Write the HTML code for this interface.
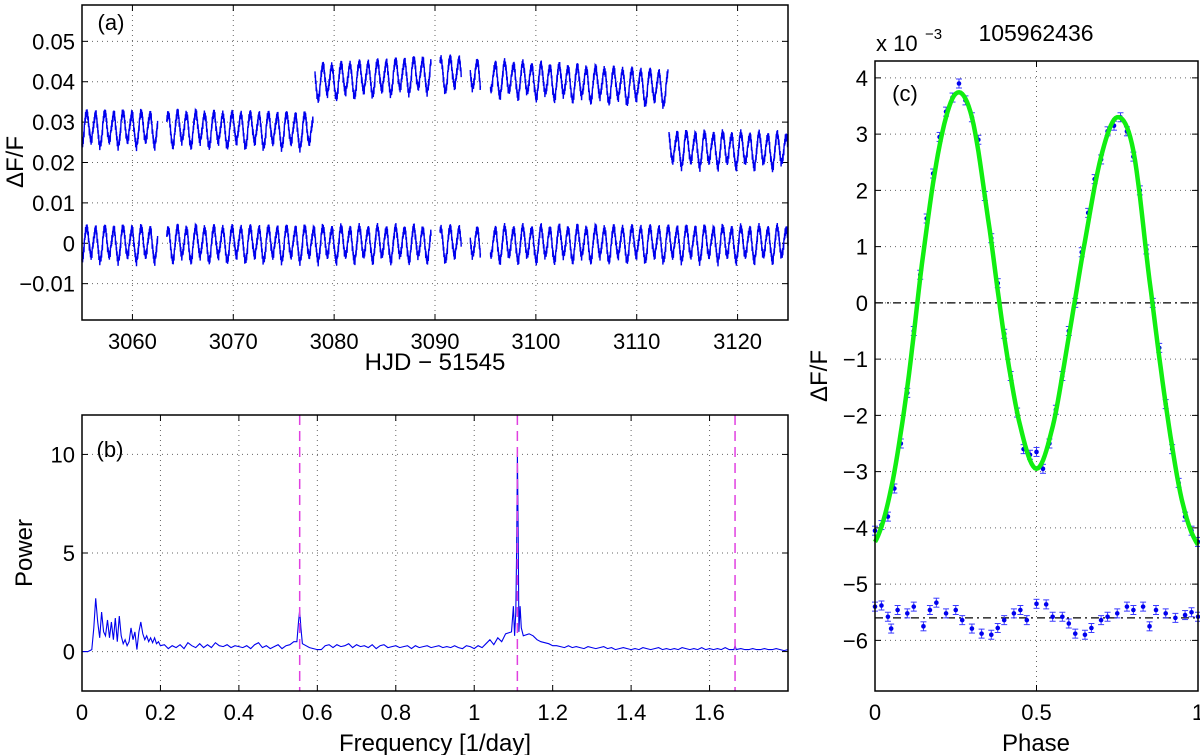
<!DOCTYPE html>
<html><head><meta charset="utf-8"><style>
html,body{margin:0;padding:0;background:#fff;}
svg{display:block;font-family:"Liberation Sans",Arial,sans-serif;}
</style></head><body>
<svg id="fig" width="1200" height="755" viewBox="0 0 1200 755"></svg>
<script>
// ---------- Panel (a) data ----------
const lcSegStart = [3055.0, 3063.4, 3078.1, 3090.5, 3093.5, 3095.5, 3113.2];
const lcSegEnd   = [3062.5, 3077.9, 3089.6, 3092.6, 3094.5, 3113.1, 3125.0];
const lcTopLevelStart = [0.0285, 0.0285, 0.0400, 0.0420, 0.0415, 0.0410, 0.0235];
const lcTopLevelEnd   = [0.0285, 0.0280, 0.0420, 0.0420, 0.0415, 0.0385, 0.0230];
const lcBotSegStart = [3055.0, 3063.4, 3090.5, 3093.5, 3095.5];
const lcBotSegEnd   = [3062.5, 3089.6, 3092.6, 3094.5, 3125.0];
const lcNoise = [0.0006,-0.0004,0.0009,-0.0008,0.0002,0.0011,-0.0010,0.0004,-0.0002,0.0007,-0.0012,0.0003,0.0008];
const lcPeriod = [1.8018];
const lcScale = [0.00105];
const aXTicks = [3060,3070,3080,3090,3100,3110,3120];
const aYTicks = [-0.01,0,0.01,0.02,0.03,0.04,0.05];
const aYTickLabels = ["\u22120.01","0","0.01","0.02","0.03","0.04","0.05"];
// ---------- Panel (b) data ----------
const pgLowFreq = [0,0.005,0.01,0.015,0.02,0.025,0.03,0.035,0.04,0.045,0.05,0.055,0.06,0.065,0.07,0.075,0.08,0.085,0.09,0.095,0.1,0.105,0.11,0.115,0.12,0.125,0.13,0.135,0.14,0.145,0.15,0.155,0.16,0.165,0.17,0.175,0.18,0.185,0.19,0.195,0.2];
const pgLowPow  = [0,0,0,0,0.05,0.1,1.2,2.7,1.5,0.7,2.0,1.0,0.8,1.6,0.7,1.5,0.6,1.7,0.5,1.8,0.8,0.4,0.6,0.3,0.5,1.2,0.6,1.0,0.1,1.0,1.5,0.9,0.6,0.8,0.5,0.7,0.45,0.7,0.4,0.5,0.3];
const pgHighPow = [
.35,.15,.3,.2,.35,.15,.45,.3,.2,.4,
.2,.35,.2,.45,.3,.25,.35,.2,.3,.25,
.2,.3,.15,.35,.45,.2,.3,.15,.25,.35,
.15,.3,.35,.5,.6,.5,.3,.2,.15,.1,
.1,.3,.35,.2,.35,.25,.3,.4,.2,.35,
.25,.3,.2,.35,.15,.3,.35,.2,.25,.3,
.2,.25,.3,.15,.3,.2,.25,.3,.2,.25,
.3,.2,.25,.2,.3,.2,.15,.3,.25,.15,
.3,.2,.4,.6,.35,.7,.5,.9,1.2,1.6,
1.0,1.5,1.2,.9,.8,.6,.5,.45,.4,.3,
.3,.25,.2,.3,.2,.25,.2,.15,.25,.2,
.15,.2,.25,.15,.2,.1,.15,.2,.15,.1,
.15,.1,.2,.15,.1,.15,.2,.1,.15,.1,
.15,.1,.2,.15,.1,.15,.1,.2,.1,.15,
.1,.15,.1,.2,.1,.15,.1,.15,.1,.1,
.15,.1,.1,.15,.1,.1,.15,.1,.05,.1];
const pgHighStart = [0.21];
const pgHighStep = [0.01];
const pgSpikeFreq = [0.548,0.552,0.555,0.558,0.562,1.095,1.1,1.103,1.106,1.108,1.11,1.112,1.114,1.117,1.12,1.125,1.662,1.665,1.668];
const pgSpikePow  = [0.5,1.5,2.1,1.2,0.4,1.0,2.3,0.8,2.0,5.0,10.0,6.0,1.0,2.3,1.2,0.8,0.1,0.3,0.1];
const harmonicFreq = [0.555,1.11,1.665];
const bXTicks = [0,0.2,0.4,0.6,0.8,1,1.2,1.4,1.6];
const bXTickLabels = ["0","0.2","0.4","0.6","0.8","1","1.2","1.4","1.6"];
const bYTicks = [0,5,10];
// ---------- Panel (c) data ----------
const modelPhase = [0,0.05,0.1,0.15,0.2,0.25,0.3,0.35,0.4,0.45,0.5,0.55,0.6,0.65,0.7,0.75,0.8,0.85,0.9,0.95,1.0];
const modelVal   = [-4.25,-3.3,-1.5,0.9,2.8,3.72,3.3,1.5,-0.6,-2.2,-2.95,-2.2,-0.6,1.1,2.6,3.3,2.7,0.4,-1.8,-3.5,-4.3];
const dataPhase = [0,.02,.04,.06,.08,.1,.12,.14,.16,.18,.2,.22,.24,.26,.28,.3,.32,.34,.36,.38,.4,.42,.44,.46,.48,.5,.52,.54,.56,.58,.6,.62,.64,.66,.68,.7,.72,.74,.76,.78,.8,.82,.84,.86,.88,.9,.92,.94,.96,.98,1.0];
const dataVal = [-4.05,-3.95,-3.8,-3.3,-2.5,-1.6,-0.5,0.5,1.5,2.3,2.95,3.4,3.65,3.9,3.6,3.3,2.9,1.9,1.15,0.35,-0.55,-1.3,-1.95,-2.6,-2.7,-2.65,-2.95,-2.5,-1.9,-1.3,-0.5,0.0,0.9,1.6,2.2,2.55,3.05,3.15,3.3,3.05,2.6,2.0,0.95,0.0,-0.8,-1.8,-2.6,-3.2,-3.8,-4.05,-4.25];
const residPhase = [0,.02,.04,.05,.07,.1,.12,.15,.17,.19,.22,.25,.27,.3,.33,.36,.38,.4,.43,.45,.47,.5,.53,.55,.58,.6,.62,.65,.67,.7,.72,.75,.78,.8,.83,.85,.87,.9,.93,.96,.98,1.0];
const residVal = [-5.4,-5.38,-5.58,-5.79,-5.46,-5.52,-5.4,-5.75,-5.46,-5.33,-5.52,-5.46,-5.64,-5.79,-5.88,-5.9,-5.78,-5.64,-5.52,-5.46,-5.64,-5.35,-5.36,-5.58,-5.58,-5.7,-5.88,-5.9,-5.78,-5.64,-5.58,-5.52,-5.4,-5.46,-5.4,-5.75,-5.46,-5.52,-5.6,-5.55,-5.5,-5.58];
const residMean = [-5.6];
const cYTicks = [-6,-5,-4,-3,-2,-1,0,1,2,3,4];
const cXTicks = [0,0.5,1];
const cXTickLabels = ["0","0.5","1"];

const FS = 22;
const NS = "http://www.w3.org/2000/svg";
const svg = document.getElementById('fig');
function mk(tag, attrs, parent){
  const e = document.createElementNS(NS, tag);
  for (const k in attrs) e.setAttribute(k, attrs[k]);
  (parent||svg).appendChild(e);
  return e;
}
function lin(d0,d1,r0,r1){ return v => r0 + (v-d0)/(d1-d0)*(r1-r0); }
function fmtMinus(v){ return (v<0?"\u2212":"") + Math.abs(v); }

function axesFrame(g, L,T,R,B, xs, ys, xt, xl, yt, yl, name){
  xt.forEach((v,i)=>{
    const x = xs(v);
    if (x> L+1 && x< R-1){
      const gl = mk('line',{x1:x,y1:T,x2:x,y2:B,stroke:'#666','stroke-width':1,'stroke-dasharray':'1,4'},g);
      
      
    }
    mk('line',{x1:x,y1:B,x2:x,y2:B-6,stroke:'#000','stroke-width':1},g);
    mk('line',{x1:x,y1:T,x2:x,y2:T+6,stroke:'#000','stroke-width':1},g);
    const t = mk('text',{x:x,y:B+29,'font-size':FS,'text-anchor':'middle',fill:'#000'},g);
    t.textContent = xl[i];
    
    
  });
  yt.forEach((v,i)=>{
    const y = ys(v);
    if (y> T+1 && y< B-1){
      const gl = mk('line',{x1:L,y1:y,x2:R,y2:y,stroke:'#666','stroke-width':1,'stroke-dasharray':'1,4'},g);
      
      
    }
    mk('line',{x1:L,y1:y,x2:L+6,y2:y,stroke:'#000','stroke-width':1},g);
    mk('line',{x1:R,y1:y,x2:R-6,y2:y,stroke:'#000','stroke-width':1},g);
    const t = mk('text',{x:L-7,y:y+8,'font-size':FS,'text-anchor':'end',fill:'#000'},g);
    t.textContent = yl[i];
    
    
  });
}
function frame(g,L,T,R,B,name){
  const r = mk('rect',{x:L,y:T,width:R-L,height:B-T,fill:'none',stroke:'#000','stroke-width':1.5},g);
  
  
}
function label(g, txt, x, y, rot, name, size){
  const t = mk('text',{x:x,y:y,'font-size':size||24,'text-anchor':'middle',fill:'#000'},g);
  if (rot) t.setAttribute('transform','rotate(-90 '+x+' '+y+')');
  t.textContent = txt;
  
  
  return t;
}
function modelAt(p){
  const n = modelPhase.length;
  let i = 0;
  while (i < n-2 && p > modelPhase[i+1]) i++;
  const t = (p - modelPhase[i])/(modelPhase[i+1]-modelPhase[i]);
  const p0 = modelVal[Math.max(i-1,0)], p1 = modelVal[i], p2 = modelVal[i+1], p3 = modelVal[Math.min(i+2,n-1)];
  return 0.5*((2*p1) + (-p0+p2)*t + (2*p0-5*p1+4*p2-p3)*t*t + (-p0+3*p1-3*p2+p3)*t*t*t);
}

// ================= Panel (a) =================
(function(){
  const L=82,T=5,R=788,B=320;
  const g = mk('g',{});
  
  
  const xs = lin(3055,3125,L,R), ys = lin(-0.019,0.059,B,T);
  axesFrame(g,L,T,R,B,xs,ys,aXTicks,aXTicks.map(String),aYTicks,aYTickLabels,'panel-a');
  const P = lcPeriod[0], S = lcScale[0];
  function sig(t,k){ let ph = ((t-3055)/P)%1; if(ph<0)ph+=1; return modelAt(ph)*S + lcNoise[k%lcNoise.length]; }
  function seg(t0,t1,l0,l1,name){
    let d=''; let k=0;
    for (let t=t0; t<=t1; t+=0.02){
      const lev = l0 + (l1-l0)*(t-t0)/Math.max(t1-t0,1e-6);
      d += (d?'L':'M') + xs(t).toFixed(1)+','+ys(lev+sig(t,k)).toFixed(1);
      k++;
    }
    const p = mk('path',{d:d,fill:'none',stroke:'#0000ee','stroke-width':1.4},g);
    
    
  }
  lcSegStart.forEach((s,i)=> seg(s,lcSegEnd[i],lcTopLevelStart[i],lcTopLevelEnd[i],'raw-flux-segment'));
  lcBotSegStart.forEach((s,i)=> seg(s,lcBotSegEnd[i],0,0,'detrended-flux-segment'));
  frame(g,L,T,R,B,'panel-a');
  label(g,'(a)',111,30,false,'panel-a-letter',22);
  label(g,'HJD \u2212 51545',435,370,false,'panel-a-x-axis-title');
  label(g,'\u0394F/F',23,162,true,'panel-a-y-axis-title');
})();

// ================= Panel (b) =================
(function(){
  const L=82,T=415,R=788,B=691;
  const g = mk('g',{});
  
  
  const xs = lin(0,1.8,L,R), ys = lin(-2,12,B,T);
  axesFrame(g,L,T,R,B,xs,ys,bXTicks,bXTickLabels,bYTicks,bYTicks.map(String),'panel-b');
  const pts = [];
  pgLowFreq.forEach((f,i)=>pts.push([f,pgLowPow[i]]));
  pgHighPow.forEach((p,i)=>{
    const f = pgHighStart[0] + i*pgHighStep[0];
    if (!pgSpikeFreq.some(s=>Math.abs(s-f)<0.008)) pts.push([f,p]);
  });
  pgSpikeFreq.forEach((f,i)=>pts.push([f,pgSpikePow[i]]));
  pts.sort((a,b)=>a[0]-b[0]);
  const d = pts.map((p,i)=>(i?'L':'M')+xs(p[0]).toFixed(1)+','+ys(p[1]).toFixed(1)).join('');
  const line = mk('path',{d:d,fill:'none',stroke:'#0000ee','stroke-width':1.1},g);
  
  
  harmonicFreq.forEach(f=>{
    const l = mk('line',{x1:xs(f),y1:T,x2:xs(f),y2:B,stroke:'#e040e0','stroke-width':1.5,'stroke-dasharray':'10,6'},g);
    
    
  });
  frame(g,L,T,R,B,'panel-b');
  label(g,'(b)',110,457,false,'panel-b-letter',22);
  label(g,'Frequency [1/day]',435,751,false,'panel-b-x-axis-title');
  label(g,'Power',32,553,true,'panel-b-y-axis-title');
})();

// ================= Panel (c) =================
(function(){
  const L=875,T=61,R=1198,B=691;
  const g = mk('g',{});
  
  
  const xs = lin(0,1,L,R), ys = lin(-6.9,4.3,B,T);
  axesFrame(g,L,T,R,B,xs,ys,cXTicks,cXTickLabels,cYTicks,cYTicks.map(fmtMinus),'panel-c');
  const z = mk('line',{x1:L,y1:ys(0),x2:R,y2:ys(0),stroke:'#000','stroke-width':1.3,'stroke-dasharray':'8,4,2,4'},g);
  
  
  const rm = mk('line',{x1:L,y1:ys(residMean[0]),x2:R,y2:ys(residMean[0]),stroke:'#000','stroke-width':1.3,'stroke-dasharray':'8,4,2,4'},g);
  
  
  function pointWithErr(p,v,name){
    const x = xs(p), y = ys(v), e = 4.5;
    const gg = mk('g',{},g);
    
    
    mk('line',{x1:x,y1:y-e,x2:x,y2:y+e,stroke:'#3a3aff','stroke-width':1},gg);
    mk('line',{x1:x-3,y1:y-e,x2:x+3,y2:y-e,stroke:'#3a3aff','stroke-width':1},gg);
    mk('line',{x1:x-3,y1:y+e,x2:x+3,y2:y+e,stroke:'#3a3aff','stroke-width':1},gg);
    mk('circle',{cx:x,cy:y,r:2.3,fill:'#0000ee'},gg);
  }
  dataPhase.forEach((p,i)=>pointWithErr(p,dataVal[i],'binned-flux-point'));
  residPhase.forEach((p,i)=>pointWithErr(p,residVal[i],'residual-point'));
  let d='';
  for (let i=0;i<=200;i++){ const p=i/200; d += (i?'L':'M')+xs(p).toFixed(1)+','+ys(modelAt(p)).toFixed(1); }
  const m = mk('path',{d:d,fill:'none',stroke:'#11ee11','stroke-width':4.5,'stroke-linejoin':'round'},g);
  
  
  frame(g,L,T,R,B,'panel-c');
  label(g,'(c)',905,101,false,'panel-c-letter',22);
  label(g,'Phase',1036,751,false,'panel-c-x-axis-title');
  label(g,'\u0394F/F',827,376,true,'panel-c-y-axis-title');
  const title = mk('text',{x:1036,y:41,'font-size':23,'text-anchor':'middle',fill:'#000'},g);
  title.textContent = '105962436';
  
  
  const sc = mk('text',{x:876,y:51,'font-size':22,fill:'#000'},g);
  sc.textContent = 'x 10';
  
  
  const ex = mk('text',{x:925,y:39,'font-size':15,fill:'#000'},g);
  ex.textContent = '\u22123';
  
  
})();
</script>
</body></html>
